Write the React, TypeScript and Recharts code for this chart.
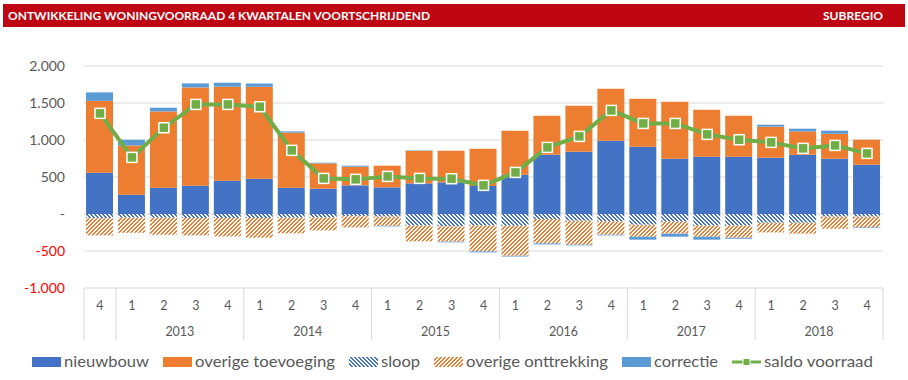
import { Bar, CartesianGrid, ComposedChart, Line, XAxis, YAxis } from "recharts";

const quarters = ["4", "1", "2", "3", "4", "1", "2", "3", "4", "1", "2", "3", "4", "1", "2", "3", "4", "1", "2", "3", "4", "1", "2", "3", "4"];
const years = ["2012", "2013", "2013", "2013", "2013", "2014", "2014", "2014", "2014", "2015", "2015", "2015", "2015", "2016", "2016", "2016", "2016", "2017", "2017", "2017", "2017", "2018", "2018", "2018", "2018"];

const nieuwbouw = [558, 261, 355, 382, 450, 477, 355, 342, 387, 360, 414, 427, 380, 531, 801, 842, 991, 909, 747, 774, 774, 760, 801, 747, 666];
const overigeToevoeging = [972, 666, 1031, 1329, 1270, 1243, 744, 342, 252, 293, 441, 428, 503, 595, 527, 622, 702, 649, 771, 635, 554, 420, 315, 337, 338];
const sloop = [-58, -46, -50, -55, -55, -55, -50, -45, -32, -36, -154, -168, -154, -158, -68, -91, -100, -145, -104, -154, -154, -118, -118, -36, -36];
const overigeOnttrekking = [-231, -207, -230, -234, -248, -265, -212, -177, -149, -124, -216, -206, -351, -406, -329, -324, -180, -162, -162, -153, -166, -131, -148, -163, -145];
const correctie = [113, 77, 50, 54, 54, 45, 17, 9, 14, -8, 5, -9, -13, -9, -14, -9, -9, -40, -41, -40, -14, 27, 37, 42, -9];
const saldo = [1360, 765, 1166, 1481, 1481, 1450, 860, 481, 468, 508, 481, 477, 387, 562, 900, 1049, 1400, 1224, 1224, 1076, 1004, 968, 887, 927, 819];

const yTicks = [-1000, -500, 0, 500, 1000, 1500, 2000];

const data = quarters.map((q, i) => ({
  key: `${years[i]}-${q}`,
  q,
  year: years[i],
  nieuwbouw: nieuwbouw[i],
  toevoeging: overigeToevoeging[i],
  sloop: sloop[i],
  onttrekking: overigeOnttrekking[i],
  correctie: correctie[i],
  saldo: saldo[i],
}));

const legendItems = [
  { name: "nieuwbouw", fill: "#4472C4", textW: 85 },
  { name: "overige toevoeging", fill: "#ED7D31", textW: 140 },
  { name: "sloop", fill: "url(#hatchSloop)", textW: 39 },
  { name: "overige onttrekking", fill: "url(#hatchOnttr)", textW: 142 },
  { name: "correctie", fill: "#5B9BD5", textW: 64 },
  { name: "saldo voorraad", fill: "line", textW: 109 },
];

const W = 908;
const H = 380;
const PLOT = { left: 84, right: 883, top: 66, bottom: 288 };
const BAND = (PLOT.right - PLOT.left) / quarters.length;
const FONT = "Lato, 'Open Sans', sans-serif";
const GREY = "#595959";
const AXIS_LINE = "#D9D9D9";

const fmt = (v: number) => {
  if (v === 0) return "-";
  const abs = Math.abs(v).toString().replace(/\B(?=(\d{3})+(?!\d))/g, ".");
  return (v < 0 ? "-" : "") + abs;
};

function YTick(props: any) {
  const { y, payload } = props;
  const v = payload.value;
  return (
    <text x={PLOT.left - 19} y={y} dy="0.35em" textAnchor="end" fontSize={14} fontFamily={FONT} fill={v < 0 ? "#FF0000" : GREY}>
      {fmt(v)}
    </text>
  );
}

function XTick(props: any) {
  const { x, index } = props;
  const d = data[index];
  if (!d) return null;
  const lines = [];
  if (index === 0 || d.q === "1") lines.push(x - BAND / 2);
  if (index === data.length - 1) lines.push(x + BAND / 2);
  return (
    <g>
      {lines.map((lx) => (
        <line key={lx} x1={lx} x2={lx} y1={PLOT.bottom} y2={PLOT.bottom + 52} stroke={AXIS_LINE} strokeWidth={1} />
      ))}
      <text x={x} y={PLOT.bottom + 22} textAnchor="middle" fontSize={12.5} fontFamily={FONT} fill={GREY}>
        {d.q}
      </text>
      {d.q === "2" && (
        <text x={x + BAND / 2} y={PLOT.bottom + 48} textAnchor="middle" fontSize={12.5} fontFamily={FONT} fill={GREY}>
          {d.year}
        </text>
      )}
    </g>
  );
}

function SquareDot(props: any) {
  const { cx, cy, index } = props;
  if (cx == null || cy == null) return <g key={index} />;
  return <rect key={index} x={cx - 5} y={cy - 5} width={10} height={10} fill="#70AD47" stroke="#fff" strokeWidth={1.5} />;
}

function Patterns() {
  // 4x4 pixel tiles like Excel's wide diagonal fills
  const up = [[2, 3], [1, 2], [0, 1], [3, 0]];
  const down = [[0, 1], [1, 2], [2, 3], [3, 0]];
  const tile = (rows: number[][], color: string) =>
    rows.flatMap((cols, r) => cols.map((c) => <rect key={`${r}-${c}`} x={c} y={r} width={1} height={1} fill={color} />));
  return (
    <svg width={0} height={0} style={{ position: "absolute" }}>
      <defs>
        <pattern id="hatchSloop" patternUnits="userSpaceOnUse" width={4} height={4} shapeRendering="crispEdges">
          <rect width={4} height={4} fill="#fff" />
          {tile(down, "#4472C4")}
        </pattern>
        <pattern id="hatchOnttr" patternUnits="userSpaceOnUse" width={4} height={4} shapeRendering="crispEdges">
          <rect width={4} height={4} fill="#fff" />
          {tile(up, "#ED7D31")}
        </pattern>
      </defs>
    </svg>
  );
}

function LegendRow() {
  let x = 32;
  const items = legendItems.map((it) => {
    const sx = x;
    const tx = sx + 32;
    x = tx + it.textW + 14;
    return { ...it, sx, tx };
  });
  return (
    <svg width={W} height={30} style={{ position: "absolute", left: 0, top: 347 }}>
      {items.map((it) => (
        <g key={it.name}>
          {it.fill === "line" ? (
            <g>
              <line x1={it.sx} x2={it.sx + 29} y1={15} y2={15} stroke="#70AD47" strokeWidth={3} />
              <rect x={it.sx + 11} y={11.5} width={7} height={7} fill="#70AD47" stroke="#fff" strokeWidth={1} />
            </g>
          ) : (
            <rect x={it.sx} y={10} width={29} height={10} fill={it.fill} shapeRendering="crispEdges" />
          )}
          <text x={it.tx} y={20} fontSize={16} fontFamily={FONT} fill={GREY} textLength={it.textW} lengthAdjust="spacingAndGlyphs">
            {it.name}
          </text>
        </g>
      ))}
    </svg>
  );
}

export default function App() {
  return (
    <div style={{ position: "fixed", left: 0, top: 0, width: W, height: H, background: "#fff", fontFamily: FONT }}>
      <Patterns />
      <svg width={902} height={23} style={{ position: "absolute", left: 3, top: 4 }}>
        <rect width={902} height={23} fill="#BE0712" />
        <text x={5} y={16} fill="#fff" fontSize={12} fontWeight={700} fontFamily={FONT} textLength={422} lengthAdjust="spacingAndGlyphs">
          ONTWIKKELING WONINGVOORRAAD 4 KWARTALEN VOORTSCHRIJDEND
        </text>
        <text x={820} y={16} fill="#fff" fontSize={12} fontWeight={700} fontFamily={FONT} textLength={60} lengthAdjust="spacingAndGlyphs">
          SUBREGIO
        </text>
      </svg>
      <div style={{ position: "absolute", left: 0, top: 0 }}>
        <ComposedChart width={W} height={H} data={data} stackOffset="sign" margin={{ top: PLOT.top, right: W - PLOT.right, bottom: 40, left: 24 }}>
          <CartesianGrid vertical={false} stroke={AXIS_LINE} strokeWidth={1} />
          <XAxis dataKey="key" axisLine={false} tickLine={false} interval={0} height={52} tick={<XTick />} />
          <YAxis width={60} domain={[-1000, 2000]} ticks={yTicks} axisLine={false} tickLine={false} tick={<YTick />} />
          <Bar dataKey="nieuwbouw" stackId="a" fill="#4472C4" barSize={27} isAnimationActive={false} />
          <Bar dataKey="toevoeging" stackId="a" fill="#ED7D31" barSize={27} isAnimationActive={false} />
          <Bar dataKey="sloop" stackId="a" fill="url(#hatchSloop)" barSize={27} isAnimationActive={false} />
          <Bar dataKey="onttrekking" stackId="a" fill="url(#hatchOnttr)" barSize={27} isAnimationActive={false} />
          <Bar dataKey="correctie" stackId="a" fill="#5B9BD5" barSize={27} isAnimationActive={false} />
          <Line dataKey="saldo" type="linear" stroke="#70AD47" strokeWidth={4} dot={SquareDot} activeDot={false} isAnimationActive={false} />
        </ComposedChart>
      </div>
      <LegendRow />
    </div>
  );
}
